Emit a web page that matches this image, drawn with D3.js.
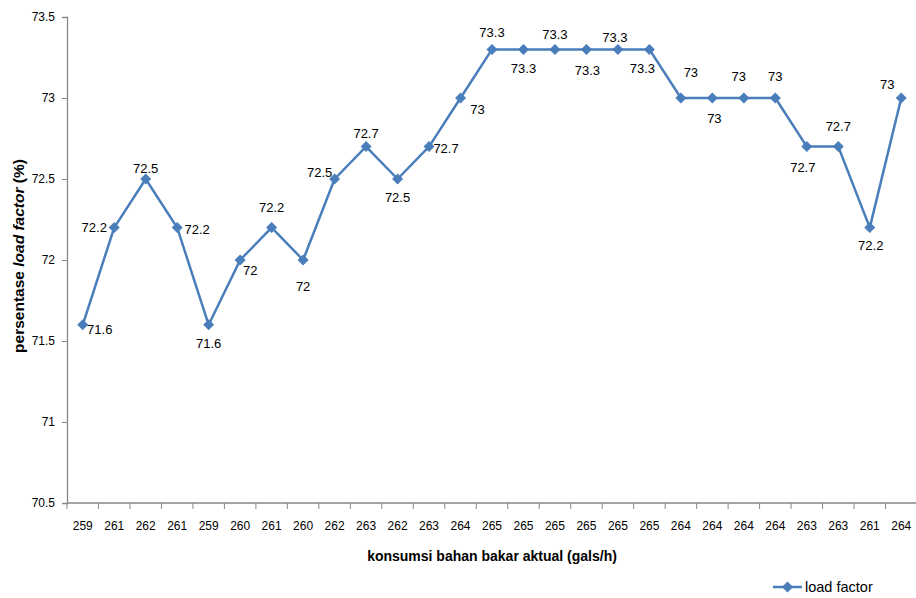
<!DOCTYPE html>
<html>
<head>
<meta charset="utf-8">
<script src="https://cdn.jsdelivr.net/npm/d3@7"></script>
<style>
  html, body { margin: 0; padding: 0; background: #fff; }
  svg { display: block; }
  text { font-family: "Liberation Sans", Arial, sans-serif; fill: #000; }
</style>
</head>
<body>
<svg id="chart" width="916" height="598"></svg>
<script>
// Fuel consumption (gals/h) for each run, shown as category labels
const fuelLabels = ["259","261","262","261","259","260","261","260","262","263","262","263","264",
                    "265","265","265","265","265","265","264","264","264","264","263","263","261","264"];
// Load factor percentage for each run
const loadFactor = [71.6,72.2,72.5,72.2,71.6,72,72.2,72,72.5,72.7,72.5,72.7,73,
                    73.3,73.3,73.3,73.3,73.3,73.3,73,73,73,73,72.7,72.7,72.2,73];
// Y axis ticks
const yTicks = [70.5,71,71.5,72,72.5,73,73.5];

// Offsets of each data label from its marker (px)
const labelOffsets = [[17,5],[-20,0],[0,-11],[20,2],[0,19],[10,10],[0,-20],[0,26],[-15,-7],[0,-13],
                      [0,18],[17,2],[17,11],[0,-17],[0,19],[0,-15],[1,21],[-3,-12],[-7,19],[10,-26],
                      [2,20],[-5,-22],[0,-22],[-4,21],[0,-20],[1,18],[-14,-14]];

const svg = d3.select("#chart");
const plotLeft = 67, plotRight = 917, plotTop = 17, plotBottom = 503;
const lineColor = "#4A7EBB";
const axisColor = "#868686";

const x = d3.scaleBand().domain(d3.range(fuelLabels.length)).range([plotLeft, plotRight]);
const y = d3.scaleLinear().domain([70.5, 73.5]).range([plotBottom, plotTop]);
const cx = i => x(i) + x.bandwidth() / 2;

// Y axis
const yAxis = svg.append("g").attr("transform", `translate(${plotLeft},0)`)
  .call(d3.axisLeft(y).tickValues(yTicks).tickSize(5).tickPadding(7).tickFormat(d => String(d)));
yAxis.select(".domain").attr("stroke", axisColor).attr("stroke-width", 1.3);
yAxis.selectAll(".tick line").attr("stroke", axisColor);
yAxis.selectAll(".tick text").attr("font-size", 12).attr("font-family", "Liberation Sans, Arial, sans-serif").attr("fill", "#000");

// X axis with tick marks on category boundaries
const xAxisG = svg.append("g").attr("transform", `translate(0,${plotBottom})`);
xAxisG.append("line").attr("x1", plotLeft).attr("x2", plotRight).attr("y1", 0).attr("y2", 0)
  .attr("stroke", axisColor).attr("stroke-width", 1.3);
xAxisG.selectAll("line.tick").data(d3.range(fuelLabels.length + 1)).join("line")
  .attr("class", "tick")
  .attr("x1", i => i < fuelLabels.length ? x(i) : plotRight)
  .attr("x2", i => i < fuelLabels.length ? x(i) : plotRight)
  .attr("y1", 0).attr("y2", 6).attr("stroke", axisColor);
xAxisG.selectAll("text").data(fuelLabels).join("text")
  .attr("x", (d, i) => cx(i)).attr("y", 27)
  .attr("text-anchor", "middle").attr("font-size", 12).text(d => d);

// Axis titles
svg.append("text")
  .attr("x", 492).attr("y", 561).attr("text-anchor", "middle")
  .attr("font-size", 14).attr("font-weight", "bold")
  .text("konsumsi bahan bakar aktual (gals/h)");

const yTitle = svg.append("text")
  .attr("transform", "translate(24,256) rotate(-90)")
  .attr("text-anchor", "middle").attr("font-size", 15.5).attr("font-weight", "bold");
yTitle.append("tspan").text("persentase ");
yTitle.append("tspan").attr("font-style", "italic").text("load factor");
yTitle.append("tspan").text(" (%)");

// Series line
const line = d3.line().x((d, i) => cx(i)).y(d => y(d));
svg.append("path").datum(loadFactor)
  .attr("d", line).attr("fill", "none")
  .attr("stroke", lineColor).attr("stroke-width", 2.5).attr("stroke-linejoin", "round");

// Diamond markers
const diamond = d3.symbol().type(d3.symbolSquare).size(46);
svg.selectAll("path.marker").data(loadFactor).join("path")
  .attr("class", "marker")
  .attr("d", diamond)
  .attr("transform", (d, i) => `translate(${cx(i)},${y(d)}) rotate(45)`)
  .attr("fill", lineColor).attr("stroke", lineColor).attr("stroke-width", 1);

// Data labels
svg.selectAll("text.dlabel").data(loadFactor).join("text")
  .attr("class", "dlabel")
  .attr("x", (d, i) => cx(i) + labelOffsets[i][0])
  .attr("y", (d, i) => y(d) + labelOffsets[i][1])
  .attr("dy", "0.35em").attr("text-anchor", "middle")
  .attr("font-size", 13).text(d => String(d));

// Legend
const lg = svg.append("g").attr("transform", "translate(773,587)");
lg.append("line").attr("x1", 0).attr("x2", 29).attr("y1", 0).attr("y2", 0)
  .attr("stroke", lineColor).attr("stroke-width", 2.5);
lg.append("path").attr("d", diamond).attr("transform", "translate(14.5,0) rotate(45)")
  .attr("fill", lineColor).attr("stroke", lineColor);
lg.append("text").attr("x", 32).attr("y", 0).attr("dy", "0.35em")
  .attr("font-size", 14.5).text("load factor");
</script>
</body>
</html>
